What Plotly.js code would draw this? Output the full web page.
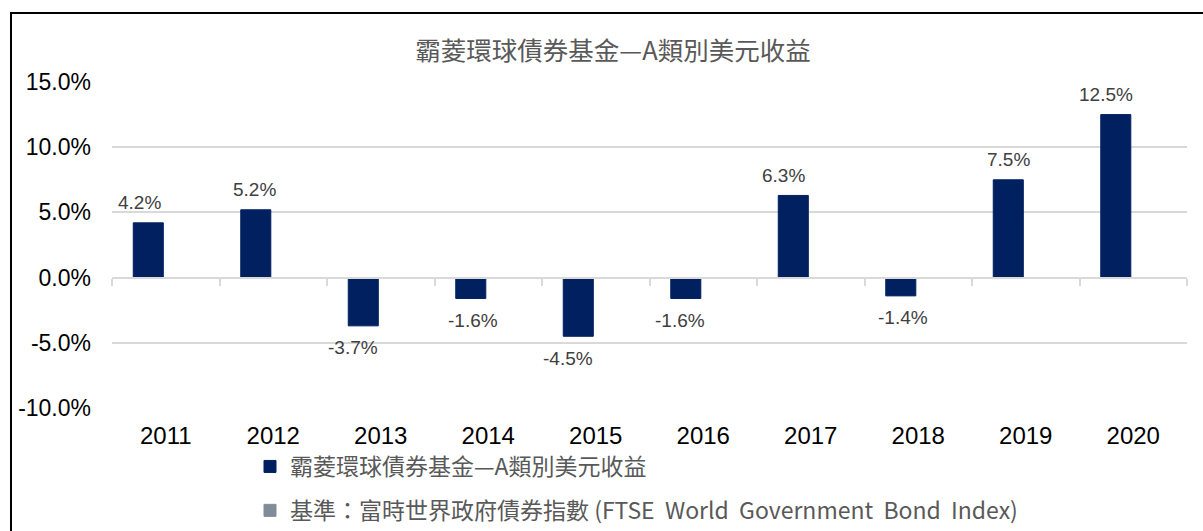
<!DOCTYPE html>
<html>
<head>
<meta charset="utf-8">
<script src="https://cdn.plot.ly/plotly-3.0.1.min.js"></script>
<style>
  html, body { margin: 0; padding: 0; background: #fff; overflow: hidden; }
  #wrap { position: relative; width: 1203px; height: 531px; overflow: hidden; }
  #chart { position: absolute; left: 0; top: 0; width: 1203px; height: 570px; }
  #frame { position: absolute; left: 10px; top: 12px; width: 1200px; height: 600px;
           border: 2px solid #000; pointer-events: none; box-sizing: border-box; }
</style>
</head>
<body>
<div id="wrap">
  <div id="chart"></div>
  <div id="frame"></div>
</div>
<script>
const years = ['2011','2012','2013','2014','2015','2016','2017','2018','2019','2020'];
const fundReturns = [4.2, 5.2, -3.7, -1.6, -4.5, -1.6, 6.3, -1.4, 7.5, 12.5];
const benchmarkReturns = [null, null, null, null, null, null, null, null, null, null];
const chartTitle = '霸菱環球債券基金—A類別美元收益';
const fundName = '霸菱環球債券基金—A類別美元收益';
const benchName = '基準：富時世界政府債券指數\u00a0(FTSE\u00a0\u00a0World\u00a0\u00a0Government\u00a0\u00a0Bond\u00a0\u00a0Index)';
const yTicks = [-10, -5, 0, 5, 10, 15];

// styling: small horizontal nudges of individual value labels (px), as in the original
const labelNudgeX = [-9, -2, -11, 2, -11, -6, -10, 2, 0, -10];

const yMin = -10, yMax = 15;
const latin = 'Liberation Sans, Arial, Noto Sans CJK TC, sans-serif';
const cjk = 'Noto Sans CJK TC, Liberation Sans, sans-serif';

const W = 1203, H = 570;
const plotL = 112, plotR = 1187, plotT = 82, plotB = 408;

const boundaries = years.map((_, i) => i - 0.5).concat([years.length - 0.5]);

const traces = [
  {
    type: 'bar', name: fundName, x: years, y: fundReturns,
    marker: { color: '#002060', line: { color: '#002060', width: 1 } },
    legendgroup: 'a', hoverinfo: 'skip'
  },
  {
    type: 'bar', name: benchName, x: years, y: benchmarkReturns,
    marker: { color: '#808c98', line: { color: '#808c98', width: 1 } },
    legendgroup: 'b', hoverinfo: 'skip'
  },
  {
    type: 'scatter', mode: 'markers', x: [], y: [], xaxis: 'x2', yaxis: 'y',
    showlegend: false, hoverinfo: 'skip'
  }
];

// value labels, placed by the axes from the data (category index on x)
const labels = fundReturns.map((v, i) => ({
  x: i, y: v, xref: 'x', yref: 'y',
  xshift: -17 + labelNudgeX[i], yshift: v >= 0 ? 20 : -22,
  text: v.toFixed(1) + '%', showarrow: false,
  xanchor: 'center', yanchor: 'middle',
  font: { family: latin, size: 19, color: '#404040' }
}));

const plotW = plotR - plotL, plotH = plotB - plotT;

const layout = {
  width: W, height: H,
  margin: { l: plotL, r: W - plotR, t: plotT, b: H - plotB, pad: 0 },
  paper_bgcolor: '#ffffff', plot_bgcolor: '#ffffff',
  font: { family: latin, color: '#000000' },
  title: {
    text: chartTitle, font: { family: cjk, size: 25.5, color: '#595959' },
    x: 613 / W, xref: 'container', xanchor: 'center',
    y: 1 - 51 / H, yref: 'container', yanchor: 'middle'
  },
  barmode: 'group', bargap: 0.35, bargroupgap: 0.14,
  showlegend: true,
  legend: {
    orientation: 'v', x: (250 - plotL) / plotW, xanchor: 'left',
    y: (plotB - 445) / plotH, yanchor: 'top',
    font: { family: cjk, size: 23, color: '#595959' },
    tracegroupgap: 11, itemclick: false, bgcolor: 'rgba(0,0,0,0)'
  },
  annotations: labels,
  xaxis: {
    type: 'category', categoryorder: 'array', categoryarray: years,
    range: [-0.5, years.length - 0.5],
    showgrid: false, zeroline: false, showline: false, ticks: '',
    tickfont: { family: latin, size: 24, color: '#000000' },
    ticklabelstandoff: 11, fixedrange: true, automargin: false
  },
  xaxis2: {
    overlaying: 'x', anchor: 'free', position: (0 - yMin) / (yMax - yMin),
    range: [-0.5, years.length - 0.5], type: 'linear',
    tickmode: 'array', tickvals: boundaries, showticklabels: false,
    ticks: 'outside', ticklen: 7, tickwidth: 2, tickcolor: '#d9d9d9',
    showline: true, linecolor: '#d9d9d9', linewidth: 2,
    showgrid: false, zeroline: false, fixedrange: true
  },
  yaxis: {
    range: [yMin, yMax], tickmode: 'array', tickvals: yTicks,
    ticktext: yTicks.map(v => v.toFixed(1) + '%'),
    showgrid: true, gridcolor: '#d9d9d9', gridwidth: 2,
    zeroline: false, showline: false, ticks: '',
    tickfont: { family: latin, size: 23, color: '#000000' },
    ticklabelstandoff: 20, fixedrange: true, automargin: false
  }
};

Plotly.newPlot('chart', traces, layout, { displayModeBar: false, staticPlot: true });
</script>
</body>
</html>
